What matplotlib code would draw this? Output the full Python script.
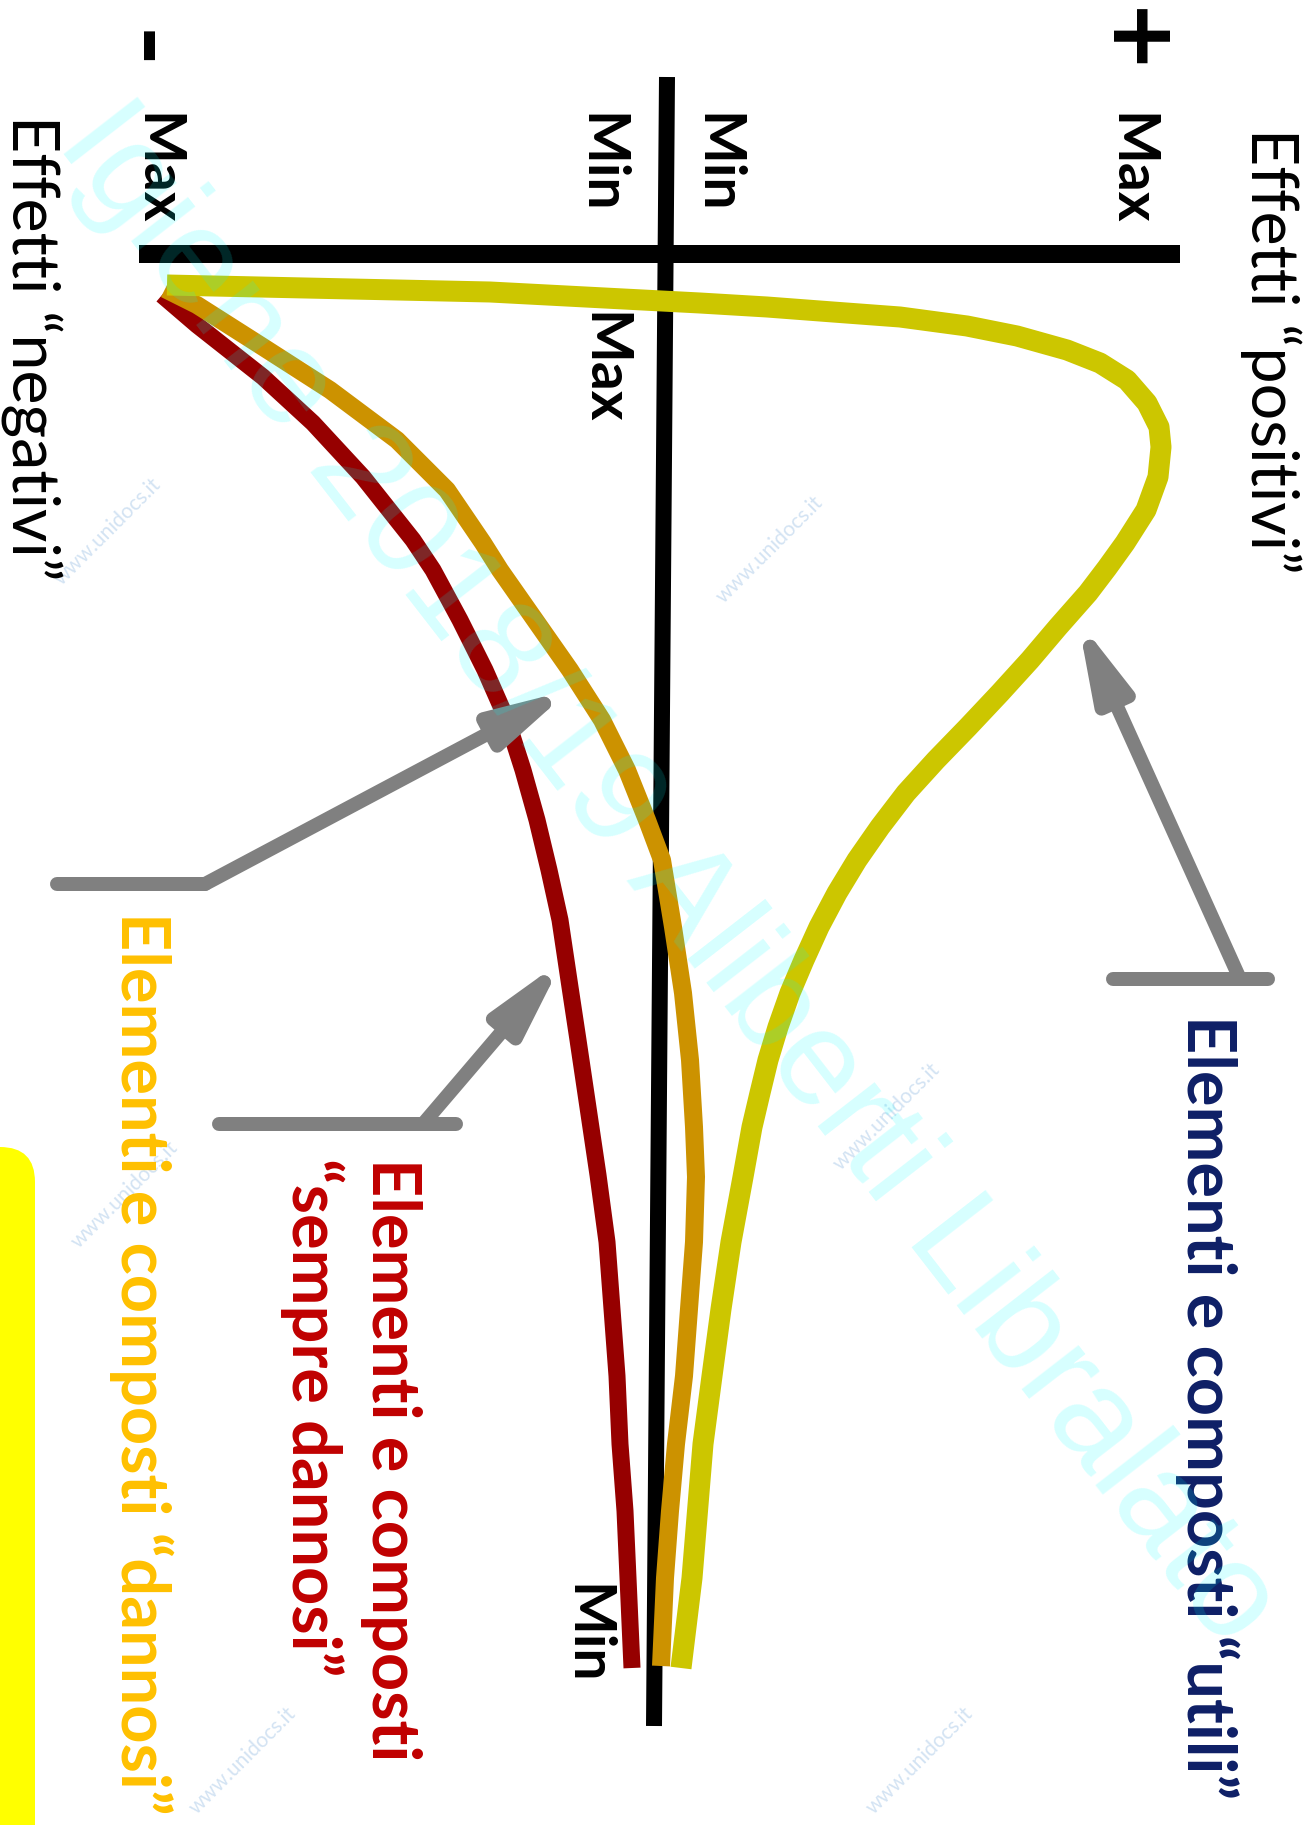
import matplotlib.pyplot as plt
from matplotlib.patches import FancyBboxPatch

plt.rcParams['font.family'] = ['Lato', 'DejaVu Sans']

# canvas in picture pixels (y grows downwards); the chart is drawn rotated 90 deg
W, H = 1312, 1825

# curves: effect (x) against concentration (y, downwards)
utili_x = [167, 490, 700, 767, 833, 900, 967, 1017, 1067, 1100, 1127, 1147,
           1159, 1161, 1158, 1146, 1125, 1107, 1088, 1058, 1030, 1000, 968,
           936, 906, 880, 857, 837, 819, 804, 790, 778, 768, 760, 752, 743,
           731, 721, 712, 703, 692, 681]
utili_y = [285, 292, 303, 307, 312, 317, 326, 336, 350, 363, 380, 403,
           427, 447, 477, 510, 543, 568, 593, 627, 660, 693, 727,
           760, 793, 827, 860, 893, 927, 960, 993, 1027, 1060, 1093, 1127, 1177,
           1242, 1309, 1376, 1444, 1578, 1668]
dannosi_x = [165, 197, 263, 330, 397, 447, 483, 500, 535, 570, 602, 627,
             647, 662, 673, 683, 690, 694, 696, 694, 689, 684, 676, 670,
             665, 661]
dannosi_y = [289, 305, 347, 390, 440, 490, 543, 570, 620, 670, 720, 770,
             820, 860, 927, 993, 1060, 1127, 1177, 1242, 1309, 1376, 1444, 1511,
             1578, 1666]
sempre_x = [162, 197, 263, 313, 363, 413, 433, 460, 485, 507, 523, 537,
            549, 560, 570, 578, 598, 607, 612, 617, 620, 625, 628, 632]
sempre_y = [295, 325, 377, 423, 477, 540, 570, 620, 670, 720, 770, 820,
            870, 920, 987, 1040, 1175, 1242, 1309, 1376, 1444, 1511, 1578, 1668]

# axes of the original chart
conc_axis = ([667, 654], [77, 1726])
effect_axis = ([139, 1180], [254, 254])

# effect axis labels: (text, baseline x, start y)
axis_labels = [('Max', 1113, 113), ('Min', 699, 113), ('Min', 583, 113),
               ('Max', 139, 113), ('Max', 586, 312), ('Min', 569, 1584)]

# leaders: horizontal bar, then arrow from bar to curve
leaders = {
    'utili': dict(bar=([1113, 1268], [979, 979]), tail=(1240, 979), tip=(1078, 620)),
    'dannosi': dict(bar=([57, 205], [884, 884]), tail=(205, 884), tip=(570, 690)),
    'sempre': dict(bar=([219, 456], [1124, 1124]), tail=(423, 1124), tip=(563, 960)),
}

YELLOW = '#CCC600'
ORANGE = '#CC9200'
DARKRED = '#960000'
GREY = '#808080'
NAVY = '#0E1F66'

fig = plt.figure(figsize=(W / 100, H / 100), dpi=100)
ax = fig.add_axes([0, 0, 1, 1])
ax.set_xlim(0, W)
ax.set_ylim(H, 0)
ax.axis('off')

px = 0.72  # points per pixel

# yellow band at the bottom left
ax.add_patch(FancyBboxPatch((-60, 1147), 95, 760, boxstyle='round,pad=0,rounding_size=35',
                            fc='#FFFF00', ec='none', zorder=1))

ax.plot(*conc_axis, color='black', lw=16 * px, solid_capstyle='butt', zorder=2)
ax.plot(*effect_axis, color='black', lw=18 * px, solid_capstyle='butt', zorder=2)

ax.plot(sempre_x, sempre_y, color=DARKRED, lw=17 * px, solid_capstyle='butt',
        solid_joinstyle='round', zorder=3)
ax.plot(dannosi_x, dannosi_y, color=ORANGE, lw=18 * px, solid_capstyle='butt',
        solid_joinstyle='round', zorder=4)
ax.plot(utili_x, utili_y, color=YELLOW, lw=21 * px, solid_capstyle='butt',
        solid_joinstyle='round', zorder=5)

for name, ld in leaders.items():
    ax.plot(*ld['bar'], color=GREY, lw=14 * px, solid_capstyle='round', zorder=6)
    ax.annotate('', xy=ld['tip'], xytext=ld['tail'],
                arrowprops=dict(arrowstyle='-|>,head_length=1.1,head_width=0.27',
                                mutation_scale=40, lw=14 * px, color=GREY,
                                shrinkA=0, shrinkB=0, capstyle='round'),
                zorder=6)

rot = dict(rotation=-90, rotation_mode='anchor', ha='left', va='baseline')

for txt, bx, sy in axis_labels:
    ax.text(bx, sy, txt, fontsize=41, fontweight='bold', color='black', zorder=7, **rot)

ax.text(1251, 128, 'Effetti \u201cpositivi\u201d', fontsize=46.5, color='black', zorder=7, **rot)
ax.text(12, 115, 'Effetti \u201cnegativi\u201d', fontsize=46.5, color='black', zorder=7, **rot)
ax.text(1131, 40, '+', fontsize=80, fontweight='bold', rotation=-90, ha='center',
        va='center', zorder=7)
ax.text(141, 51, '-', fontsize=80, fontweight='bold', rotation=-90, ha='center',
        va='center', zorder=7)

ax.text(1187, 1015, 'Elementi e composti \u201cutili\u201d', fontsize=48, fontweight='bold',
        color=NAVY, zorder=7, **rot)
ax.text(372, 1158, 'Elementi e composti', fontsize=48, fontweight='bold',
        color='#C00000', zorder=7, **rot)
ax.text(292, 1158, '\u201csempre dannosi\u201d', fontsize=48, fontweight='bold',
        color='#C00000', zorder=7, **rot)
ax.text(121, 912, 'Elementi e composti \u201cdannosi\u201d', fontsize=48, fontweight='bold',
        color='#FFC000', zorder=7, **rot)

# watermarks
ax.text(667, 876, 'Igiene 2018/19 Aliberti Libralato', fontsize=98,
        family=['Liberation Sans', 'DejaVu Sans'], color='#00FFFF', alpha=0.16,
        rotation=-52.2, rotation_mode='anchor', ha='center', va='center', zorder=8)
for wx, wy in [(108, 532), (770, 550), (887, 1117), (125, 1195), (243, 1761), (920, 1761)]:
    ax.text(wx, wy, 'www.unidocs.it', fontsize=15, color='#D3E3F3', rotation=45,
            rotation_mode='anchor', ha='center', va='center', zorder=0)

fig.savefig('out.png', dpi=100)
